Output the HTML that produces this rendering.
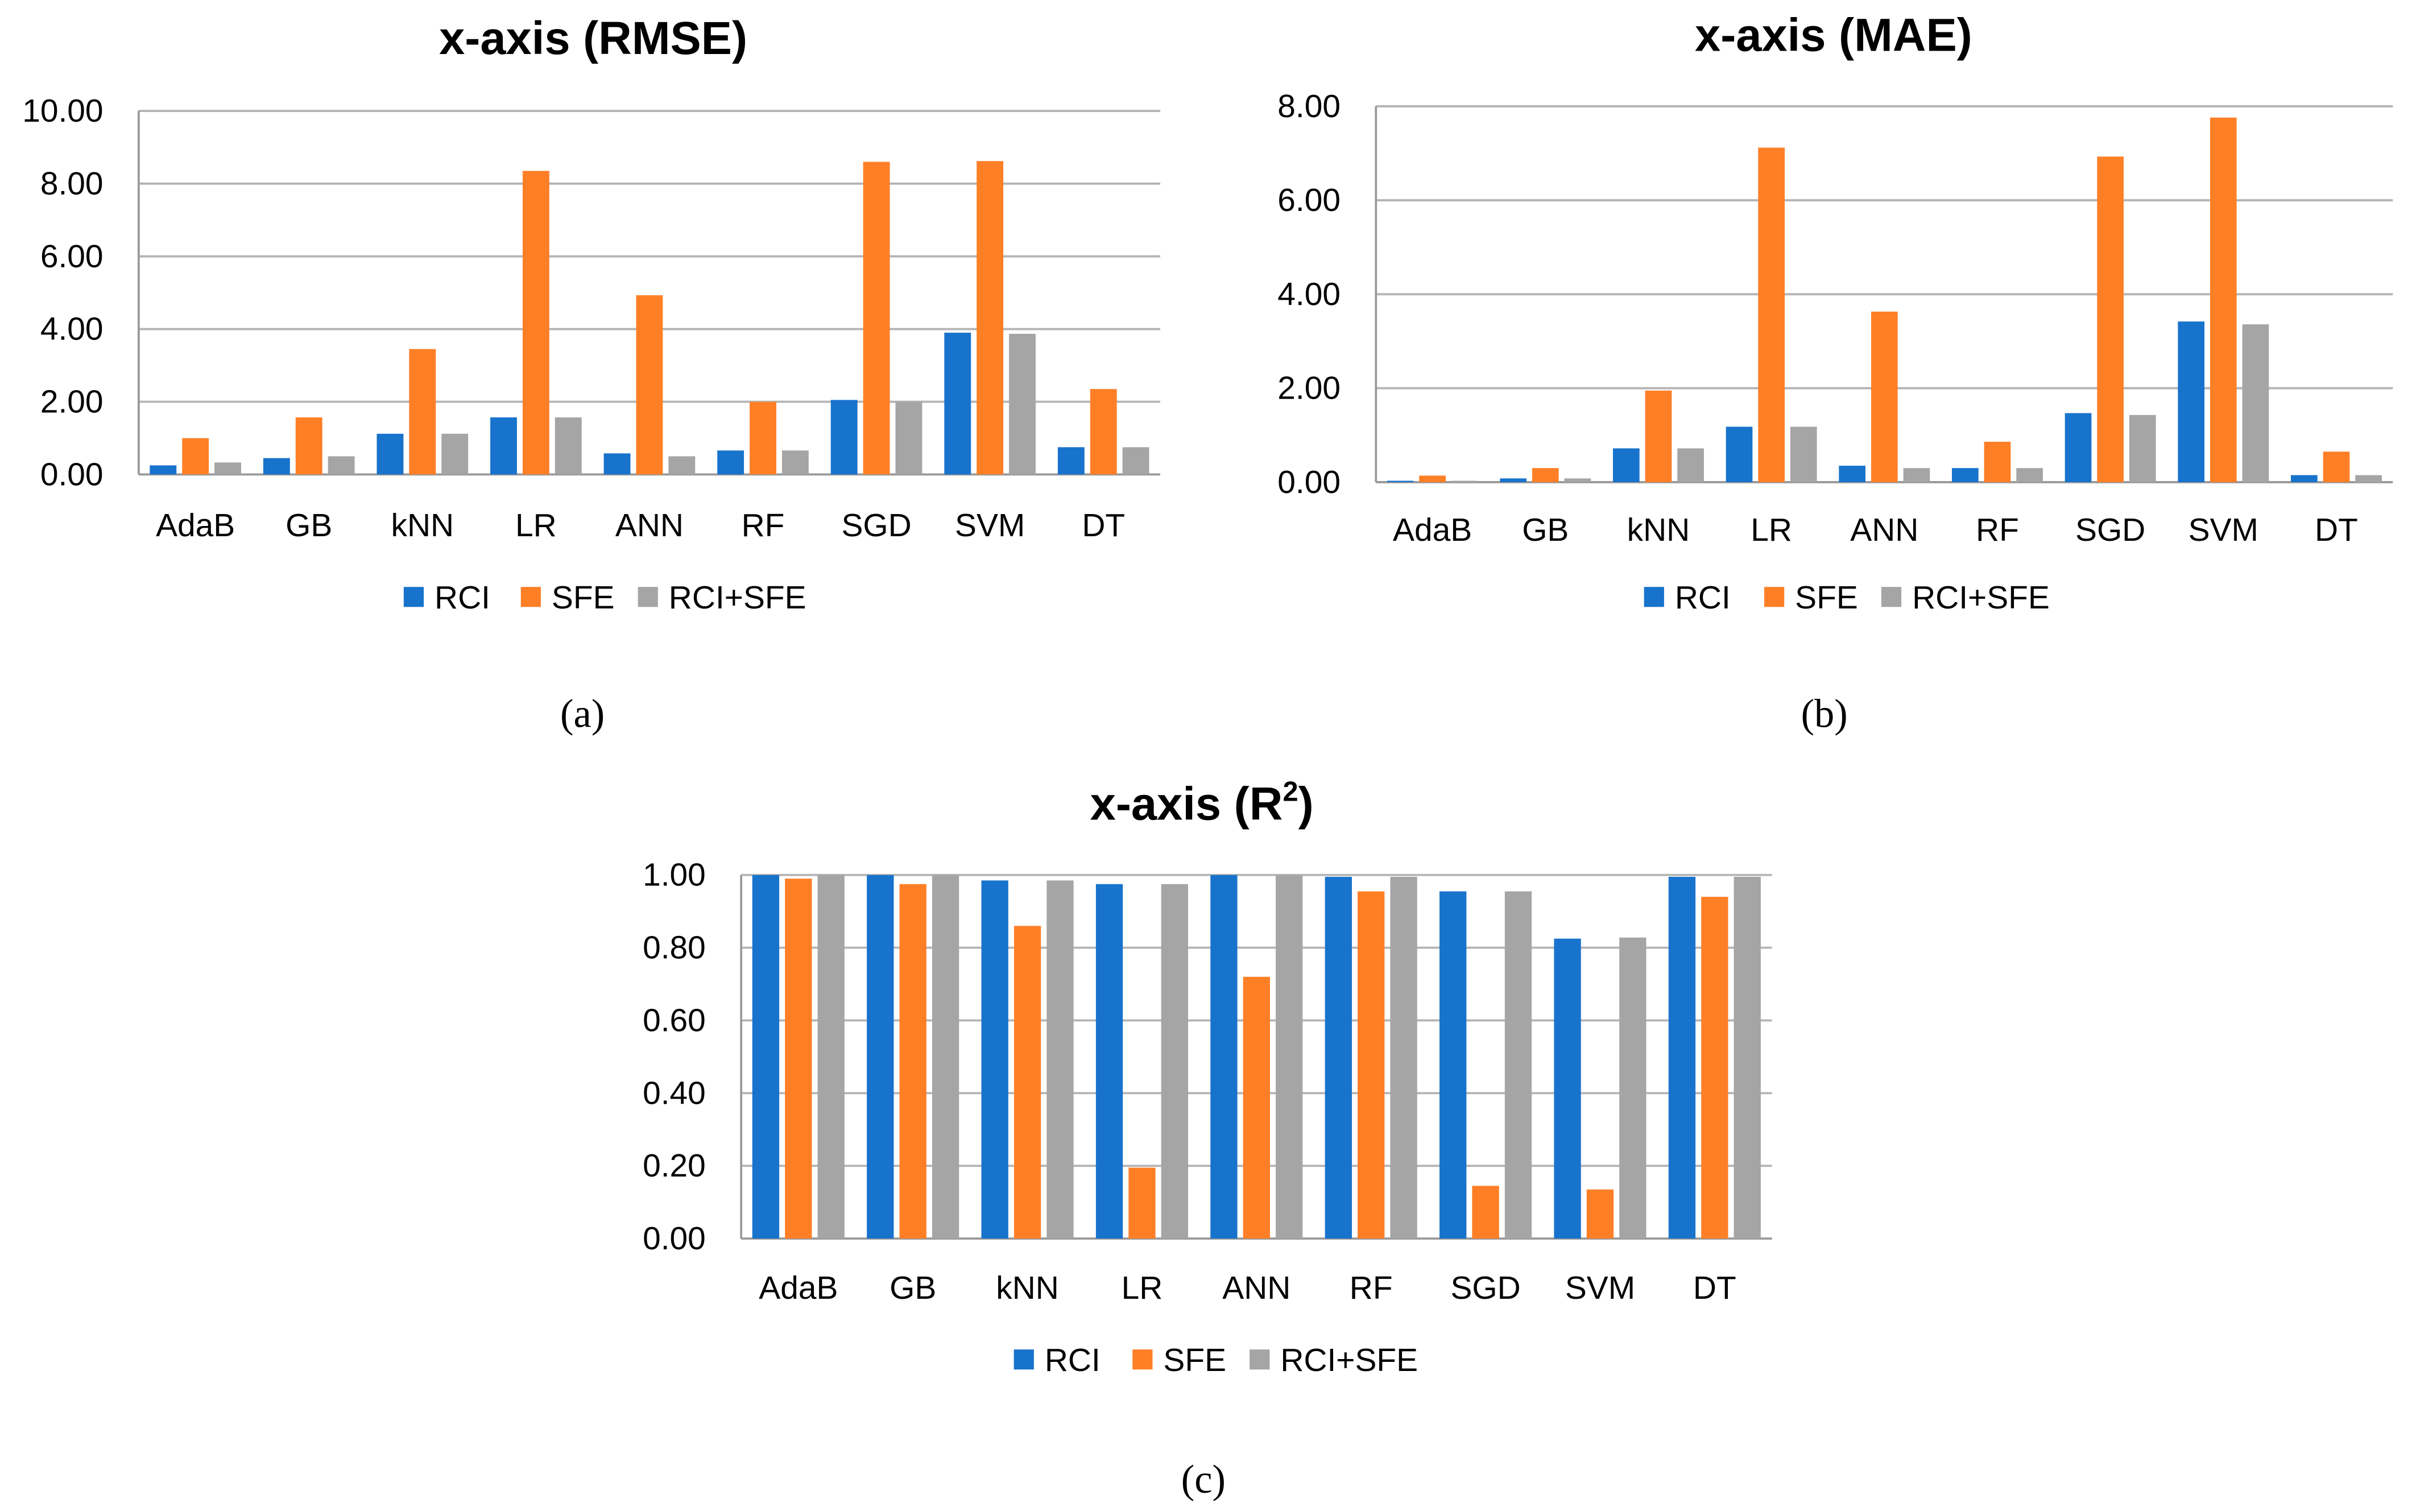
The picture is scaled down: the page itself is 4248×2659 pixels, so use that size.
<!DOCTYPE html>
<html><head><meta charset="utf-8"><style>
html,body{margin:0;padding:0;background:#fff;}
svg{display:block;}
text{font-family:"Liberation Sans",sans-serif;}
text.serif{font-family:"Liberation Serif",serif;}
</style></head><body>
<svg id="fig" width="4248" height="2659" viewBox="0 0 1568 981.5" xmlns="http://www.w3.org/2000/svg"></svg>
<script>
const categories = ["AdaB","GB","kNN","LR","ANN","RF","SGD","SVM","DT"];
const seriesNames = ["RCI","SFE","RCI+SFE"];
const seriesColors = ["#1873CC","#FF7F27","#A5A5A5"];
const rmseRCI = [0.25,0.45,1.12,1.57,0.58,0.66,2.05,3.90,0.75];
const rmseSFE = [1.00,1.57,3.45,8.35,4.93,2.00,8.60,8.62,2.35];
const rmseBoth = [0.33,0.50,1.12,1.57,0.50,0.66,2.00,3.87,0.75];
const maeRCI = [0.03,0.08,0.72,1.18,0.35,0.30,1.47,3.42,0.15];
const maeSFE = [0.14,0.30,1.95,7.12,3.63,0.86,6.93,7.76,0.65];
const maeBoth = [0.03,0.08,0.72,1.18,0.30,0.30,1.43,3.36,0.15];
const r2RCI = [1.00,1.00,0.985,0.975,1.00,0.995,0.955,0.825,0.995];
const r2SFE = [0.99,0.975,0.86,0.195,0.72,0.955,0.145,0.135,0.94];
const r2Both = [1.00,1.00,0.985,0.975,1.00,0.995,0.955,0.828,0.995];
const rmseTicks = ["0.00","2.00","4.00","6.00","8.00","10.00"];
const maeTicks = ["0.00","2.00","4.00","6.00","8.00"];
const r2Ticks = ["0.00","0.20","0.40","0.60","0.80","1.00"];

const NS="http://www.w3.org/2000/svg";
const svg=document.getElementById('fig');
function mk(tag,attrs,parent){const e=document.createElementNS(NS,tag);for(const k in attrs)e.setAttribute(k,attrs[k]);(parent||svg).appendChild(e);return e;}

function chart(id,cfg){
  const g=mk('g',{});
  
  
  const {x0,x1,yTop,yBot,maxV,ticks,series,title,sup,label,lx,ly}=cfg;
  const yS=v=>yBot-(v/maxV)*(yBot-yTop);
  const band=(x1-x0)/categories.length;
  const xS=i=>x0+band*i;
  const t=mk('text',{x:cfg.tx,y:cfg.ty,'text-anchor':'middle','font-size':30,'font-weight':'bold',fill:'#000'},g);
  
  
  t.textContent=title;
  if(sup){const ts=mk('tspan',{'font-size':18,dy:-12},t);ts.textContent=sup;const te=mk('tspan',{dy:12},t);te.textContent=')';}
  ticks.forEach((lab,k)=>{
    const v=parseFloat(lab);const y=yS(v);
    const l=mk('line',{x1:x0,x2:x1,y1:y,y2:y,stroke:k==0?'#999':'#b4b4b4','stroke-width':1.4},g);
    
    
    const tx=mk('text',{x:x0-23,y:y+7,'text-anchor':'end','font-size':21,fill:'#000'},g);
    
    
    tx.textContent=lab;
  });
  const ax=mk('line',{x1:x0,x2:x0,y1:yTop,y2:yBot,stroke:'#999','stroke-width':1.4},g);
  
  
  const bw=band*0.235, gap=band*0.05;
  const groupW=3*bw+2*gap, off=(band-groupW)/2;
  categories.forEach((c,i)=>{
    series.forEach((arr,s)=>{
      const bx=xS(i)+off+s*(bw+gap);
      const y=yS(arr[i]);
      const r=mk('rect',{x:bx,y:y,width:bw,height:yBot-y,fill:seriesColors[s]},g);
      
      
    });
    const cl=mk('text',{x:xS(i)+band/2,y:cfg.cy,'text-anchor':'middle','font-size':21,fill:'#000'},g);
    
    
    cl.textContent=c;
  });
  cfg.leg.forEach((lx2,s)=>{
    const sq=mk('rect',{x:lx2,y:cfg.legy-7,width:13,height:13,fill:seriesColors[s]},g);
    
    
    const lt=mk('text',{x:lx2+20,y:cfg.legy+7,'font-size':21,fill:'#000'},g);
    
    
    lt.textContent=seriesNames[s];
  });
  const pl=mk('text',{x:lx,y:ly,'text-anchor':'middle','font-size':26,fill:'#000',class:'serif'},g);
  
  
  pl.textContent=label;
}
chart('rmse',{x0:90,x1:753,yTop:72,yBot:308,maxV:10,ticks:rmseTicks,series:[rmseRCI,rmseSFE,rmseBoth],
  title:'x-axis (RMSE)',tx:385,ty:35,cy:348,legy:388,leg:[262,338,414],label:'(a)',lx:378,ly:472});
chart('mae',{x0:893,x1:1553,yTop:69,yBot:313,maxV:8,ticks:maeTicks,series:[maeRCI,maeSFE,maeBoth],
  title:'x-axis (MAE)',tx:1190,ty:33,cy:351,legy:388,leg:[1067,1145,1221],label:'(b)',lx:1184,ly:472});
chart('r2',{x0:481,x1:1150,yTop:568,yBot:804,maxV:1,ticks:r2Ticks,series:[r2RCI,r2SFE,r2Both],
  title:'x-axis (R',sup:'2',tx:780,ty:532,cy:843,legy:883,leg:[658,735,811],label:'(c)',lx:781,ly:969});
</script>
</body></html>
